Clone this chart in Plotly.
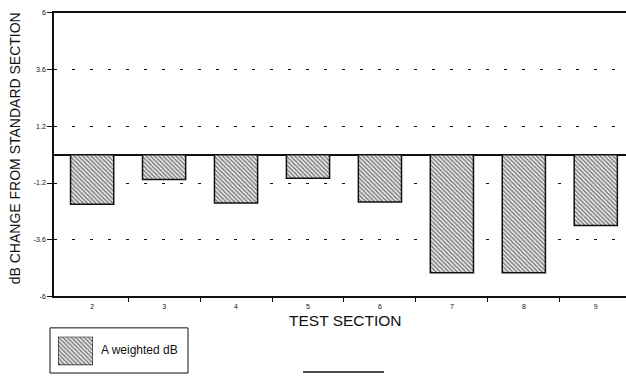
import plotly.graph_objects as go

# Test sections and change in A-weighted level relative to the standard section
sections = [2, 3, 4, 5, 6, 7, 8, 9]
db_change = [-2.1, -1.05, -2.05, -1.0, -2.0, -5.0, -5.0, -3.0]

y_tick_vals = [-6, -3.6, -1.2, 1.2, 3.6, 6]
y_tick_text = ["-6", "-3.6", "-1.2", "1.2", "3.6", "6"]
series_name = "A weighted dB"

W, H = 626, 377
INK = "#111111"
FONT = "Liberation Sans, Arial, sans-serif"

# plot frame in pixels
left, right, top, bottom = 54, 626, 9, 298


def px_x(v):
    return v / W


def px_y(v):
    return 1 - v / H


hatch = dict(shape="\\", fgcolor=INK, bgcolor="white", size=3, solidity=0.62)

fig = go.Figure()
fig.add_trace(go.Bar(
    x=sections, y=db_change, width=0.6, name=series_name,
    marker=dict(color="white", pattern=hatch, line=dict(color=INK, width=1.5)),
    showlegend=False, xaxis="x", yaxis="y",
))

# key swatch drawn on its own small axes
fig.add_trace(go.Bar(
    x=[0], y=[1], width=1, name=series_name,
    marker=dict(color="white", pattern=hatch, line=dict(color=INK, width=1.2)),
    showlegend=False, xaxis="x2", yaxis="y2", hoverinfo="skip",
))

fig.update_layout(
    width=W, height=H,
    margin=dict(l=0, r=0, t=0, b=0),
    paper_bgcolor="white", plot_bgcolor="white",
    font=dict(family=FONT, color=INK),
    xaxis=dict(
        domain=[px_x(left), px_x(right)],
        range=[1.47, 9.42],
        tickmode="array", tickvals=sections, ticktext=[str(s) for s in sections],
        ticks="", ticklabelstandoff=2,
        tickfont=dict(size=7, color=INK),
        showline=True, linecolor=INK, linewidth=1.5, mirror=True,
        showgrid=False, zeroline=False,
        minor=dict(tickmode="array", tickvals=[s + 0.5 for s in sections[:-1]],
                   ticks="outside", ticklen=4, tickcolor=INK, tickwidth=1),
    ),
    yaxis=dict(
        domain=[px_y(bottom), px_y(top)],
        range=[-6, 6],
        tickmode="array", tickvals=y_tick_vals, ticktext=y_tick_text,
        ticks="outside", ticklen=5, tickwidth=1.2, tickcolor=INK,
        tickfont=dict(size=7, color=INK),
        showline=True, linecolor=INK, linewidth=1.5,
        showgrid=True, gridcolor=INK, gridwidth=1.3, griddash="3px,15px",
        zeroline=True, zerolinecolor=INK, zerolinewidth=1.5,
    ),
    xaxis2=dict(domain=[px_x(58), px_x(93)], range=[-0.5, 0.5], visible=False,
                anchor="y2", fixedrange=True),
    yaxis2=dict(domain=[px_y(368), px_y(339)], range=[0, 1], visible=False,
                anchor="x2", fixedrange=True),
    shapes=[
        # key frame
        dict(type="rect", xref="paper", yref="paper",
             x0=px_x(50), x1=px_x(188), y0=px_y(376), y1=px_y(330),
             line=dict(color=INK, width=1)),
        dict(type="line", xref="paper", yref="paper",
             x0=px_x(303), x1=px_x(384), y0=px_y(375), y1=px_y(375),
             line=dict(color=INK, width=1.5)),
    ],
    annotations=[
        dict(text="dB CHANGE FROM STANDARD SECTION", textangle=-90,
             xref="paper", yref="paper", x=px_x(15), y=px_y(147),
             xanchor="center", yanchor="middle",
             showarrow=False, font=dict(size=14, color=INK)),
        dict(text="TEST SECTION", xref="paper", yref="paper",
             x=px_x(345), y=px_y(322), xanchor="center", yanchor="middle",
             showarrow=False, font=dict(size=15.5, color=INK)),
        dict(text=series_name, xref="paper", yref="paper",
             x=px_x(99), y=px_y(353), xanchor="left", yanchor="middle",
             showarrow=False, font=dict(size=12, color=INK)),
    ],
)

fig.write_html("out.html")
